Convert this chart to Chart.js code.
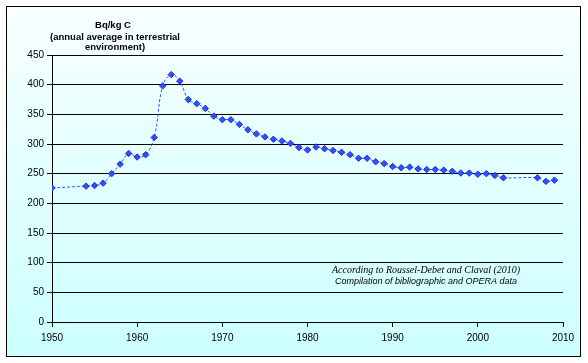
<!DOCTYPE html>
<html>
<head>
<meta charset="utf-8">
<script src="https://cdn.jsdelivr.net/npm/chart.js@4"></script>
<style>
  html, body { margin: 0; padding: 0; background: #fff; }
  #wrap { width: 588px; height: 363px; }
</style>
</head>
<body>
<div id="wrap"><canvas id="c14Chart" width="588" height="363"></canvas></div>
<script>
// Data
const years = [1950, 1954, 1955, 1956, 1957, 1958, 1959, 1960, 1961, 1962, 1963, 1964, 1965,
    1966, 1967, 1968, 1969, 1970, 1971, 1972, 1973, 1974, 1975, 1976, 1977, 1978, 1979,
    1980, 1981, 1982, 1983, 1984, 1985, 1986, 1987, 1988, 1989, 1990, 1991, 1992, 1993,
    1994, 1995, 1996, 1997, 1998, 1999, 2000, 2001, 2002, 2003, 2007, 2008, 2009];
const activity = [226, 229, 230, 234, 250, 266, 284, 278, 282, 311, 398, 417, 406,
    375, 368, 360, 347, 341, 341, 333, 324, 317, 312, 308, 305, 301, 294,
    290, 295, 292, 289, 286, 282, 276, 276, 270, 267, 262, 260, 261, 258,
    257, 257, 256, 254, 251, 251, 249, 250, 247, 243, 243, 237, 239];
const xTicks = [1950, 1960, 1970, 1980, 1990, 2000, 2010];
const yTicks = [0, 50, 100, 150, 200, 250, 300, 350, 400, 450];

const points = years.map((yr, i) => ({ x: yr, y: activity[i] }));

// Background + border + texts
const decoPlugin = {
    id: 'deco',
    beforeDraw(chart) {
        const ctx = chart.ctx;
        ctx.save();
        ctx.fillStyle = '#fff';
        ctx.fillRect(0, 0, chart.width, chart.height);
        const grad = ctx.createLinearGradient(0, 6, 0, 357);
        grad.addColorStop(0, '#f8ffff');
        grad.addColorStop(1, '#ccffff');
        ctx.fillStyle = grad;
        ctx.fillRect(6, 6, 574, 351);
        ctx.strokeStyle = '#000';
        ctx.lineWidth = 1;
        ctx.strokeRect(6.5, 6.5, 574, 350);
        ctx.restore();
    },
    afterDraw(chart) {
        const ctx = chart.ctx;
        ctx.save();
        ctx.fillStyle = '#000';
        ctx.textAlign = 'center';
        ctx.textBaseline = 'middle';
        ctx.font = 'bold 9.5px "Liberation Sans", Arial, sans-serif';
        ctx.fillText('Bq/kg C', 113, 25);
        ctx.fillText('(annual average in terrestrial', 115, 37);
        ctx.fillText('environment)', 115, 47);
        ctx.font = 'italic 10px "Liberation Serif", "Times New Roman", serif';
        ctx.fillText('According to Roussel-Debet and Claval (2010)', 426, 270);
        ctx.font = 'italic 9px "Liberation Sans", Arial, sans-serif';
        ctx.fillText('Compilation of bibliographic and OPERA data', 426, 281);
        ctx.restore();
    }
};

const ctx = document.getElementById('c14Chart').getContext('2d');
new Chart(ctx, {
    type: 'line',
    data: {
        datasets: [{
            data: points,
            borderColor: '#3355ff',
            borderWidth: 1,
            borderDash: [3, 2],
            tension: 0.4,
            pointStyle: 'rectRot',
            pointRadius: 3.2,
            pointBackgroundColor: '#3050ff',
            pointBorderColor: '#1a2fe0',
            pointBorderWidth: 1
        }]
    },
    options: {
        responsive: false,
        animation: false,
        layout: { padding: { left: 0, top: 55, right: 25, bottom: 0 } },
        plugins: { legend: { display: false }, tooltip: { enabled: false } },
        scales: {
            x: {
                type: 'linear',
                min: 1950,
                max: 2010,
                afterBuildTicks: (s) => { s.ticks = xTicks.map(v => ({ value: v })); },
                afterFit: (s) => { s.height = 41; },
                grid: { drawOnChartArea: false, drawTicks: true, tickLength: 5, color: '#000' },
                border: { color: '#000' },
                ticks: {
                    padding: 5,
                    color: '#000',
                    font: { family: '"Liberation Sans", Arial, sans-serif', size: 10 },
                    callback: (v) => String(v)
                }
            },
            y: {
                min: 0,
                max: 450,
                afterBuildTicks: (s) => { s.ticks = yTicks.map(v => ({ value: v })); },
                afterFit: (s) => { s.width = 52; },
                grid: { color: '#000', tickLength: 5 },
                border: { color: '#000' },
                ticks: {
                    padding: 3,
                    color: '#000',
                    font: { family: '"Liberation Sans", Arial, sans-serif', size: 10 },
                    callback: (v) => String(v)
                }
            }
        }
    },
    plugins: [decoPlugin]
});
</script>
</body>
</html>
